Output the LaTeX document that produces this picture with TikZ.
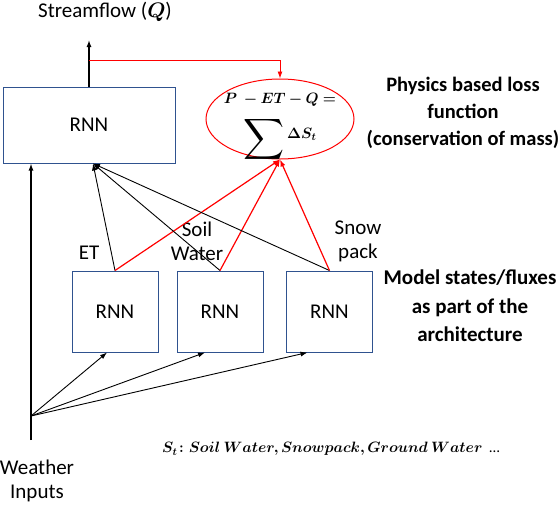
\documentclass[tikz,border=0pt]{standalone}
\usepackage{fix-cm}
\usepackage{amsmath,amssymb}
\usepackage{bm}
\usepackage{fontspec}
\setmainfont{Carlito}
\usetikzlibrary{positioning,shapes.geometric,arrows.meta}
\definecolor{boxblue}{RGB}{47,82,143}

\begin{document}
\begin{tikzpicture}[x=1pt,y=-1pt,
rnnbox/.style={draw=boxblue,line width=1pt,font=\fontsize{21}{25}\selectfont},
lbl/.style={font=\fontsize{21}{24}\selectfont,align=center},
note/.style={font=\bfseries\fontsize{20.5}{27}\selectfont,align=center},
blk/.style={-{Latex[length=7pt,width=5pt]},line width=0.9pt},
redarrow/.style={-{Latex[length=7pt,width=5pt]},draw=red,line width=1.2pt}]
\useasboundingbox (0,0) rectangle (560,504);
% model boxes
\node[rnnbox,minimum width=172pt,minimum height=76pt] (rnn) at (89,125) {RNN};
\node[rnnbox,minimum width=86pt,minimum height=81pt] (et) at (115,311.5) {RNN};
\node[rnnbox,minimum width=86pt,minimum height=81pt] (sw) at (220,311.5) {RNN};
\node[rnnbox,minimum width=86pt,minimum height=81pt] (sp) at (329.5,311.5) {RNN};
% loss
\node[draw=red,line width=1pt,ellipse,minimum width=148pt,minimum height=80pt,
inner sep=0pt,font=\fontsize{15}{18}\selectfont] (loss) at (280,119)
{\raisebox{-11pt}[0pt][0pt]{\makebox[0pt]{\begin{tabular}{@{}c@{}}
$\bm{P\ -ET-Q=}$\\[8pt]
$\vcenter{\hbox{\scalebox{1.9}{$\displaystyle\sum$}}}\,\raisebox{5pt}{$\bm{\Delta S_t}$}$
\end{tabular}}}};
% texts
\node[lbl] (qtxt) at (105,12) {Streamflow ($\bm{Q}$)};
\node[lbl] (etl) at (89,253) {ET};
\node[lbl] (swl) at (197,241) {Soil\\Water};
\node[lbl] (spl) at (358,241) {Snow\\pack};
\node[lbl] (wtxt) at (37,481) {Weather\\Inputs};
\node[note] (phys) at (463,113) {Physics based loss\\function\\(conservation of mass)};
\node[note,font=\bfseries\fontsize{21}{28.5}\selectfont] (arch) at (470,306)
{Model states/fluxes\\as part of the\\architecture};
\node[font=\fontsize{15}{18}\selectfont] (stxt) at (331,449)
{$\bm{S_t\colon Soil\ Water, Snowpack, Ground\ Water}$\ \ \dots};
% connectors
\coordinate (qout) at (89,40);
\coordinate (qtap) at (89,60);
\coordinate (rnnin) at ([xshift=4pt]rnn.south);
\coordinate (win) at (31,440);
\coordinate (wsplit) at (31,416);
\draw[blk,line width=1.3pt] (rnn.north) -- (qout);
\draw[redarrow,line width=0.9pt] (qtap) -| (loss.north);
\draw[blk,line width=1.3pt] (win) -- (win |- rnn.south);
\draw[blk] (wsplit) -- ([xshift=-8pt]et.south);
\draw[blk] (wsplit) -- ([xshift=-15pt]sw.south);
\draw[blk] (wsplit) -- ([xshift=-22pt]sp.south);
\foreach \s in {et,sw,sp}{
\draw[blk] (\s.north) -- (rnnin);
\draw[redarrow] (\s.north) -- (loss.south);
}
\end{tikzpicture}
\end{document}
